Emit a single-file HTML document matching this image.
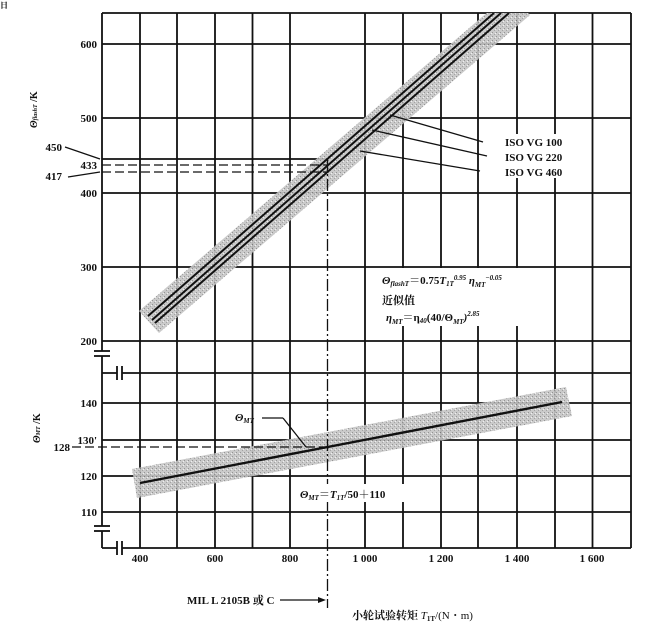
<!DOCTYPE html>
<html><head><meta charset="utf-8"><style>
html,body{margin:0;padding:0;background:#fff;}
svg{display:block;}
text{font-family:"Liberation Serif","Noto Serif CJK SC",serif;font-weight:bold;fill:#111;}
</style></head><body>
<svg width="650" height="631" viewBox="0 0 650 631" xmlns="http://www.w3.org/2000/svg">
<defs>
<clipPath id="pc"><rect x="102" y="13" width="529" height="535"/></clipPath>
<pattern id="sp" width="4" height="4" patternUnits="userSpaceOnUse">
<rect width="4" height="4" fill="#c4c4c4"/><rect x="0" y="0" width="1" height="1" fill="#888"/><rect x="2" y="2" width="1" height="1" fill="#999"/><rect x="3" y="1" width="1" height="1" fill="#eee"/>
</pattern>
</defs>
<text x="0" y="8" font-size="8" font-weight="normal">日</text>
<g stroke="#111" stroke-width="1.8" fill="none">
<line x1="140" y1="13" x2="140" y2="548"/>
<line x1="177" y1="13" x2="177" y2="548"/>
<line x1="215" y1="13" x2="215" y2="548"/>
<line x1="252.5" y1="13" x2="252.5" y2="548"/>
<line x1="290" y1="13" x2="290" y2="548"/>
<line x1="365" y1="13" x2="365" y2="548"/>
<line x1="403" y1="13" x2="403" y2="548"/>
<line x1="441" y1="13" x2="441" y2="548"/>
<line x1="478" y1="13" x2="478" y2="548"/>
<line x1="517" y1="13" x2="517" y2="548"/>
<line x1="555" y1="13" x2="555" y2="548"/>
<line x1="592.5" y1="13" x2="592.5" y2="548"/>
<line x1="631" y1="13" x2="631" y2="548"/>
<line x1="102" y1="13" x2="631" y2="13"/>
<line x1="102" y1="44" x2="631" y2="44"/>
<line x1="102" y1="118" x2="631" y2="118"/>
<line x1="102" y1="193" x2="631" y2="193"/>
<line x1="102" y1="267" x2="631" y2="267"/>
<line x1="102" y1="341" x2="631" y2="341"/>
<line x1="102" y1="373" x2="631" y2="373"/>
<line x1="102" y1="403" x2="631" y2="403"/>
<line x1="102" y1="440" x2="631" y2="440"/>
<line x1="102" y1="476" x2="631" y2="476"/>
<line x1="102" y1="512" x2="631" y2="512"/>
<line x1="102" y1="548" x2="631" y2="548"/>
<line x1="102" y1="159" x2="327.5" y2="159"/>
<line x1="102" y1="13" x2="102" y2="548"/>
</g>
<g fill="#fff"><rect x="96" y="351" width="12" height="5"/><rect x="96" y="526" width="12" height="5"/><rect x="117" y="368" width="5" height="10"/><rect x="117" y="543" width="5" height="10"/></g>
<g stroke="#111" stroke-width="1.8">
<line x1="94" y1="351" x2="110" y2="351"/><line x1="94" y1="356" x2="110" y2="356"/>
<line x1="94" y1="526" x2="110" y2="526"/><line x1="94" y1="531" x2="110" y2="531"/>
<line x1="117" y1="366" x2="117" y2="380"/><line x1="122" y1="366" x2="122" y2="380"/>
<line x1="117" y1="541" x2="117" y2="555"/><line x1="122" y1="541" x2="122" y2="555"/>
</g>
<g clip-path="url(#pc)">
<polygon points="159,333 139,311 510,-7 530,15" fill="url(#sp)" opacity="0.9"/>
<polygon points="132,469 137,498 572,416 566,387" fill="url(#sp)" opacity="0.9"/>
<g stroke="#111" stroke-width="2" fill="none">
<line x1="148" y1="316" x2="494" y2="13"/>
<line x1="152" y1="320" x2="501" y2="13"/>
<line x1="155" y1="323" x2="509" y2="13"/>
</g>
<line x1="140" y1="483" x2="562" y2="402" stroke="#111" stroke-width="2.4"/>
</g>
<g stroke="#111" stroke-width="1.3" fill="none">
<line x1="102" y1="165" x2="327.5" y2="165" stroke-dasharray="9,4"/>
<line x1="102" y1="172" x2="327.5" y2="172" stroke-dasharray="9,4"/>
<line x1="72" y1="447" x2="327.5" y2="447" stroke-dasharray="9,4"/>
<line x1="327.5" y1="159" x2="327.5" y2="608" stroke-dasharray="12,3,2,3"/>
<line x1="65" y1="147" x2="100" y2="159"/>
<line x1="68" y1="177" x2="100" y2="172"/>
<line x1="262" y1="418" x2="283" y2="418"/><line x1="283" y1="418" x2="306" y2="447"/>
<line x1="280" y1="600" x2="320" y2="600"/>
<line x1="483" y1="142" x2="390" y2="115"/><line x1="487" y1="156" x2="372" y2="130"/><line x1="480" y1="171" x2="360" y2="151"/>
</g>
<polygon points="326,600 318,597 318,603" fill="#111"/>
<rect x="495" y="134" width="80" height="44" fill="#fff"/>
<rect x="376" y="268" width="150" height="58" fill="#fff"/>
<rect x="298" y="484" width="122" height="18" fill="#fff"/>
<g font-size="11">
<text x="505" y="146">ISO VG 100</text>
<text x="505" y="161">ISO VG 220</text>
<text x="505" y="176">ISO VG 460</text>
<text x="382" y="284" font-style="italic">Θ<tspan font-size="7" dy="2">flashT</tspan><tspan dy="-2" font-style="normal">＝0.75</tspan>T<tspan font-size="7" dy="2">1T</tspan><tspan font-size="7" dy="-6">0.95</tspan><tspan dy="4"> η</tspan><tspan font-size="7" dy="3">MT</tspan><tspan font-size="7" dy="-7">−0.05</tspan></text>
<text x="382" y="304">近似值</text>
<text x="386" y="321" font-style="italic">η<tspan font-size="7" dy="3">MT</tspan><tspan dy="-3" font-style="normal">＝η</tspan><tspan font-size="7" dy="2">40</tspan><tspan dy="-2" font-style="normal">(40/Θ</tspan><tspan font-size="7" dy="3">MT</tspan><tspan dy="-3">)</tspan><tspan font-size="7" dy="-5">2.85</tspan></text>
<text x="300" y="498" font-style="italic">Θ<tspan font-size="7" dy="2">MT</tspan><tspan dy="-2" font-style="normal">＝</tspan>T<tspan font-size="7" dy="2">1T</tspan><tspan dy="-2" font-style="normal">/50＋110</tspan></text>
<text x="235" y="421" font-style="italic">Θ<tspan font-size="7" dy="2">MT</tspan></text>
<text x="187" y="604" font-weight="normal">MIL L 2105B 或 C</text>
<text x="352" y="619">小轮试验转矩 <tspan font-style="italic" font-weight="normal">T</tspan><tspan font-size="7" dy="2">1T</tspan><tspan dy="-2" font-weight="normal">/(N・m)</tspan></text>
</g>
<g font-size="11" text-anchor="end">
<text x="97" y="48">600</text><text x="97" y="122">500</text><text x="97" y="197">400</text>
<text x="97" y="271">300</text><text x="97" y="345">200</text>
<text x="62" y="151">450</text><text x="97" y="169">433</text><text x="62" y="180">417</text>
<text x="97" y="407">140</text><text x="97" y="444">130'</text><text x="97" y="480">120</text><text x="97" y="516">110</text>
<text x="70" y="451">128</text>
</g>
<g font-size="11" text-anchor="middle">
<text x="140" y="562">400</text><text x="215" y="562">600</text><text x="290" y="562">800</text>
<text x="365" y="562">1 000</text><text x="441" y="562">1 200</text><text x="517" y="562">1 400</text><text x="592" y="562">1 600</text>
</g>
<text transform="translate(37,128) rotate(-90)" font-size="10" font-style="italic">Θ<tspan font-size="6">flashT</tspan><tspan font-style="normal"> /K</tspan></text>
<text transform="translate(40,443) rotate(-90)" font-size="10" font-style="italic">Θ<tspan font-size="6">MT</tspan><tspan font-style="normal"> /K</tspan></text>
</svg>
</body></html>
